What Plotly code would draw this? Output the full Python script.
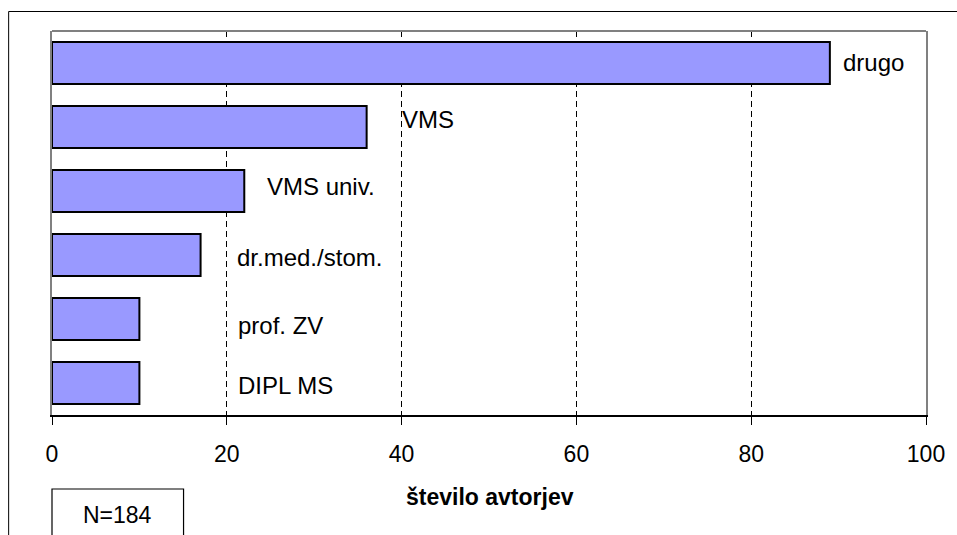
import plotly.graph_objects as go

# Authors by qualification (top to bottom as drawn)
categories = ["drugo", "VMS", "VMS univ.", "dr.med./stom.", "prof. ZV", "DIPL MS"]
counts = [89, 36, 22, 17, 10, 10]
x_ticks = [0, 20, 40, 60, 80, 100]
axis_title = "število avtorjev"
total_label = "N=184"

# Label placement (left edge in axis units, vertical nudge in px)
label_x = [90.3, 39.8, 24.4, 20.9, 21.1, 21.0]
label_shift = [1, 8, 5, -2, -6, -2]

FONT = "Liberation Sans, Arial, sans-serif"
W, H = 957, 535
L, R, T, B = 52, 28, 31, 120
pw, ph = W - L - R, H - T - B


def px_to_paper(x, y):
    return (x - L) / pw, (H - B - y) / ph


fig = go.Figure(
    go.Bar(
        x=counts,
        y=categories,
        orientation="h",
        marker=dict(color="#9999FF", line=dict(color="black", width=2)),
        hoverinfo="x+y",
    )
)

for cat, lx, dy in zip(categories, label_x, label_shift):
    fig.add_annotation(
        x=lx, y=cat, xref="x", yref="y", text=cat, showarrow=False,
        xanchor="left", yanchor="middle", yshift=dy,
        font=dict(family=FONT, size=24, color="black"),
    )

# outer frame (left and top edges)
fx0, fy0 = px_to_paper(8.5, 11.5)
fx1, fy1 = px_to_paper(W + 5, H + 5)
fig.add_shape(type="rect", xref="paper", yref="paper", x0=fx0, x1=fx1, y0=fy1, y1=fy0,
              line=dict(color="black", width=1), fillcolor="rgba(0,0,0,0)", layer="above")

# plot area border, top edge
fig.add_shape(type="line", xref="paper", yref="paper", x0=0, x1=1, y0=1, y1=1,
              line=dict(color="#808080", width=2))

# N box
bx0, by0 = px_to_paper(52, 489)
bx1, by1 = px_to_paper(184, H + 10)
fig.add_shape(type="rect", xref="paper", yref="paper", x0=bx0, x1=bx1, y0=by1, y1=by0,
              line=dict(color="black", width=1.2), fillcolor="white")
nx, ny = px_to_paper(118, 515)
fig.add_annotation(x=nx, y=ny, xref="paper", yref="paper", text=total_label, showarrow=False,
                   xanchor="center", yanchor="middle",
                   font=dict(family=FONT, size=23, color="black"))

# axis title
tx, ty = px_to_paper(492, 497)
fig.add_annotation(x=tx, y=ty, xref="paper", yref="paper", text="<b>" + axis_title + "</b>",
                   showarrow=False, xanchor="center", yanchor="middle",
                   font=dict(family=FONT, size=23, color="black"))

fig.update_layout(
    width=W, height=H,
    margin=dict(l=L, r=R, t=T, b=B, pad=0),
    paper_bgcolor="white", plot_bgcolor="white",
    bargap=0.34,
    showlegend=False,
    font=dict(family=FONT, color="black"),
)
fig.update_xaxes(
    range=[0, 100], tickvals=x_ticks, ticktext=[str(v) for v in x_ticks],
    showgrid=True, gridcolor="black", gridwidth=1, griddash="6px,4px",
    showline=True, linecolor="black", linewidth=2,
    ticks="outside", ticklen=8, tickcolor="black", tickwidth=1,
    tickfont=dict(family=FONT, size=23, color="black"),
    ticklabelstandoff=9,
    zeroline=False, fixedrange=True,
)
fig.update_yaxes(
    categoryorder="array", categoryarray=categories, autorange="reversed",
    showticklabels=False, ticks="", showgrid=False, zeroline=False,
    showline=True, linecolor="#808080", linewidth=2, mirror=True,
    fixedrange=True,
)

fig.write_html("out.html")
